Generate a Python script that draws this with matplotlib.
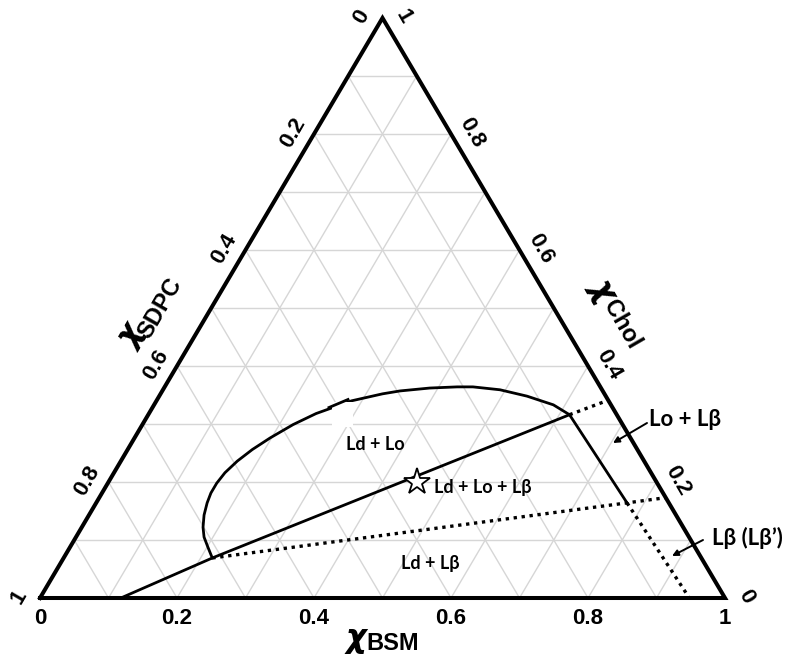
import matplotlib
matplotlib.use("Agg")
import numpy as np
import matplotlib.pyplot as plt
from matplotlib.patches import Rectangle

# axis ticks (mole fraction)
ticks = [0.0, 0.2, 0.4, 0.6, 0.8, 1.0]
tick_labels = ["0", "0.2", "0.4", "0.6", "0.8", "1"]

# Ld / Lo coexistence boundary (x_BSM, x_Chol)
bnd_bsm = [0.217, 0.201, 0.187, 0.177, 0.168, 0.162, 0.159, 0.159, 0.162, 0.170,
           0.182, 0.198, 0.220, 0.244, 0.285, 0.324, 0.347, 0.388, 0.427, 0.450,
           0.492, 0.537, 0.583, 0.615]
bnd_chol = [0.069, 0.088, 0.105, 0.122, 0.143, 0.164, 0.181, 0.198, 0.216, 0.236,
            0.256, 0.276, 0.299, 0.318, 0.340, 0.352, 0.357, 0.362, 0.364, 0.364,
            0.359, 0.348, 0.333, 0.316]

# three-phase triangle corners: Ld, Lo, Lbeta
tri_bsm = [0.217, 0.615, 0.775]
tri_chol = [0.069, 0.316, 0.164]

# solid tie line (BSM axis -> Ld corner -> Lo corner)
tie_bsm = [0.118, 0.217, 0.615]
tie_chol = [0.0, 0.069, 0.316]

# dotted boundaries
dot1_bsm, dot1_chol = [0.615, 0.659], [0.316, 0.341]          # Lo corner -> Chol axis
dot2_bsm, dot2_chol = [0.217, 0.775, 0.827], [0.069, 0.164, 0.173]  # Ld -> Lbeta -> Chol axis
dot3_bsm, dot3_chol = [0.775, 0.948], [0.164, 0.0]            # Lbeta corner -> BSM axis

# marked sample composition
star_bsm, star_chol = 0.45, 0.20


def tern(b, c):
    b = np.asarray(b, dtype=float)
    c = np.asarray(c, dtype=float)
    return b + c / 2.0, c


# figure pixel -> data (only for annotation / label placement)
def pix(px, py):
    return (px - 40) / 685.0, (598 - py) / 580.0


fig = plt.figure(figsize=(7.96, 6.56), dpi=100)
ax = fig.add_axes([0, 0, 1, 1])
ax.set_xlim(-40 / 685.0, 756 / 685.0)
ax.set_ylim(-58 / 580.0, 598 / 580.0)
ax.axis("off")

# grid
gc = "#d6d6d6"
for k in np.arange(1, 10) / 10.0:
    x, y = tern([0, 1 - k], [k, k])
    ax.plot(x, y, color=gc, lw=1.0, zorder=1)
    x, y = tern([k, k], [0, 1 - k])
    ax.plot(x, y, color=gc, lw=1.0, zorder=1)
    x, y = tern([0, 1 - k], [1 - k, 0])
    ax.plot(x, y, color=gc, lw=1.0, zorder=1)

# triangle frame
x, y = tern([0, 1, 0, 0], [0, 0, 1, 0])
ax.plot(x, y, color="k", lw=2.9, solid_joinstyle="miter", zorder=6)

# phase boundaries
x, y = tern(bnd_bsm, bnd_chol)
ax.plot(x, y, color="k", lw=2.0, solid_joinstyle="round", zorder=3)
x, y = tern(tie_bsm, tie_chol)
ax.plot(x, y, color="k", lw=2.0, zorder=3)
x, y = tern(tri_bsm[1:], tri_chol[1:])
ax.plot(x, y, color="k", lw=2.0, zorder=3)

dots = (0, (1, 1.4))
for bb, cc in [(dot1_bsm, dot1_chol), (dot2_bsm, dot2_chol), (dot3_bsm, dot3_chol)]:
    x, y = tern(bb, cc)
    ax.plot(x, y, color="k", lw=2.4, linestyle=dots, zorder=3)

# white patch with a dash over the boundary (as in the original figure)
x0, y0 = pix(332, 427)
x1, y1 = pix(353, 402)
ax.add_patch(Rectangle((x0, y0), x1 - x0, y1 - y0, facecolor="white",
                       edgecolor="none", zorder=4))
a, b = pix(329, 407.5), pix(348, 399.5)
ax.plot([a[0], b[0]], [a[1], b[1]], color="k", lw=2.0, zorder=5)

# star
x, y = tern([star_bsm], [star_chol])
ax.plot(x, y, marker="*", ms=20, mfc="white", mec="k", mew=1.3, zorder=7)

# tick labels
tick_font = dict(family="Liberation Sans", fontweight="bold", fontsize=16)
for t, lab in zip(ticks, tick_labels):
    x, y = tern([t], [0])
    ax.annotate(lab, (x[0], y[0]), xytext=(0, -21), textcoords="offset pixels",
                ha="center", va="center", **tick_font)
    # SDPC on the left edge (0 at top)
    x, y = tern([0], [1 - t])
    ax.annotate(lab, (x[0], y[0]), xytext=(-21, 1), textcoords="offset pixels",
                ha="center", va="center", rotation=60, **tick_font)
    # Chol on the right edge (0 at bottom)
    x, y = tern([1 - t], [t])
    ax.annotate(lab, (x[0], y[0]), xytext=(21, 1), textcoords="offset pixels",
                ha="center", va="center", rotation=-60, **tick_font)

# axis titles
chi_font = dict(family="DejaVu Sans", fontstyle="italic", fontweight="bold", fontsize=23)
sub_font = dict(family="Liberation Sans", fontweight="bold", fontsize=17)
for (cx, cy), (sx, sy), sub, rot in [((356, 639), (393, 643), "BSM", 0),
                                     ((131, 336), (160, 308), "SDPC", 60),
                                     ((603, 289), (622, 324), "Chol", -60)]:
    ax.text(*pix(cx, cy), "\u03c7", ha="center", va="center", rotation=rot,
            rotation_mode="anchor", **chi_font)
    ax.text(*pix(sx, sy), sub, ha="center", va="center", rotation=rot,
            rotation_mode="anchor", **sub_font)

# region labels
lab_fam = ["Lato", "DejaVu Sans"]
ax.text(*pix(375, 445), "Ld + Lo", ha="center", va="center", family=lab_fam,
        fontweight="bold", fontsize=13, zorder=8)
ax.text(*pix(434, 487), "Ld + Lo + L\u03b2", ha="left", va="center", family=lab_fam,
        fontweight="bold", fontsize=13, zorder=8)
ax.text(*pix(430, 563), "Ld + L\u03b2", ha="center", va="center", family=lab_fam,
        fontweight="bold", fontsize=13, zorder=8)
ax.text(*pix(649, 420), "Lo + L\u03b2", ha="left", va="center", family=lab_fam,
        fontweight="bold", fontsize=16, zorder=8)
ax.text(*pix(712, 538), "L\u03b2 (L\u03b2\u2019)", ha="left", va="center", family=lab_fam,
        fontweight="bold", fontsize=16, zorder=8)

arrow = dict(arrowstyle="-|>", color="k", lw=1.4, mutation_scale=9, shrinkA=0, shrinkB=0)
ax.annotate("", xy=pix(613, 443), xytext=pix(647, 423), arrowprops=arrow, zorder=8)
ax.annotate("", xy=pix(672, 556), xytext=pix(703, 540), arrowprops=arrow, zorder=8)

fig.savefig("out.png", dpi=100)
